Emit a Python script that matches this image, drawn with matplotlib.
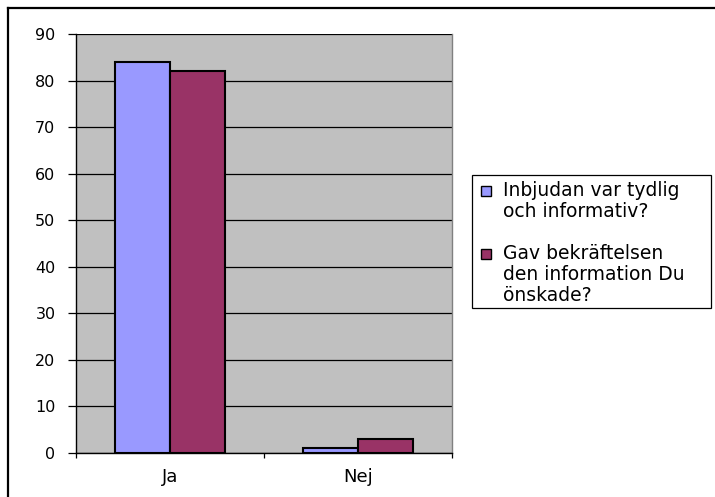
import numpy as np
import matplotlib
matplotlib.use('Agg')
import matplotlib.pyplot as plt
from matplotlib.lines import Line2D
from matplotlib.patches import Rectangle

# ----------------------------------------------------------------------------------------------------------------------
# data
categories = ['Ja', 'Nej']
series_names = ['Inbjudan var tydlig\noch informativ?',
                'Gav bekräftelsen\nden information Du\nönskade?']
series_colors = ['#9999FF', '#993366']
values_inbjudan = [84, 1]
values_bekraftelse = [82, 3]
y_ticks = [0, 10, 20, 30, 40, 50, 60, 70, 80, 90]
# ----------------------------------------------------------------------------------------------------------------------

plt.rcParams['font.family'] = ['DejaVu Sans']

W, H = 715, 497
fig = plt.figure(figsize=(W / 100, H / 100), dpi=100)
fig.patch.set_facecolor('white')


def fx(px):
    return px / W


def fy(py):
    return 1 - py / H


# plot area in pixel coordinates
px_l, px_r, px_t, px_b = 76, 452, 34, 453
ax = fig.add_axes([fx(px_l), fy(px_b), (px_r - px_l) / W, (px_b - px_t) / H])
ax.set_facecolor('#C0C0C0')

x = np.arange(len(categories)) + 0.5
bar_w = 0.29
ax.bar(x - bar_w / 2, values_inbjudan, bar_w, color=series_colors[0], edgecolor='black', linewidth=1.5, zorder=3)
ax.bar(x + bar_w / 2, values_bekraftelse, bar_w, color=series_colors[1], edgecolor='black', linewidth=1.5, zorder=3)

ax.set_xlim(0, len(categories))
ax.set_ylim(0, 90)
ax.set_yticks(y_ticks)
ax.set_yticklabels([str(v) for v in y_ticks], fontsize=11.5)
ax.yaxis.grid(True, color='black', linewidth=0.9, zorder=1)
ax.set_axisbelow(True)
ax.tick_params(axis='y', length=5.8, width=0.9, pad=9)

# category boundary ticks, labels centered
ax.set_xticks(np.arange(len(categories) + 1))
ax.set_xticklabels([''] * (len(categories) + 1))
ax.set_xticks(x, minor=True)
ax.set_xticklabels(categories, minor=True, fontsize=13)
ax.tick_params(axis='x', which='major', length=3.3, width=0.9)
ax.tick_params(axis='x', which='minor', length=0, pad=11)

for side in ['left', 'bottom']:
    ax.spines[side].set_color('black')
    ax.spines[side].set_linewidth(1.0)
ax.spines['top'].set_visible(False)
ax.spines['right'].set_color('#808080')
ax.spines['right'].set_linewidth(1.0)

# legend (drawn as box, color squares and text lines)
fig.add_artist(Rectangle((fx(472), fy(308)), (711 - 472) / W, (308 - 175) / H, transform=fig.transFigure,
                         facecolor='white', edgecolor='black', linewidth=0.9))
entry_baselines = [196, 259]
line_step = 21
for name, color, base in zip(series_names, series_colors, entry_baselines):
    fig.add_artist(Rectangle((fx(481), fy(base)), 10 / W, 10 / H, transform=fig.transFigure,
                             facecolor=color, edgecolor='black', linewidth=1.0))
    for i, line in enumerate(name.split('\n')):
        fig.text(fx(503), fy(base + i * line_step), line, fontsize=13.5, ha='left', va='baseline')

# outer chart border (left and top visible)
fig.add_artist(Line2D([fx(8), fx(8)], [0, fy(8)], transform=fig.transFigure, color='black', linewidth=1.6))
fig.add_artist(Line2D([fx(8), 1], [fy(8), fy(8)], transform=fig.transFigure, color='black', linewidth=1.6))

fig.savefig('out.png', dpi=100)
